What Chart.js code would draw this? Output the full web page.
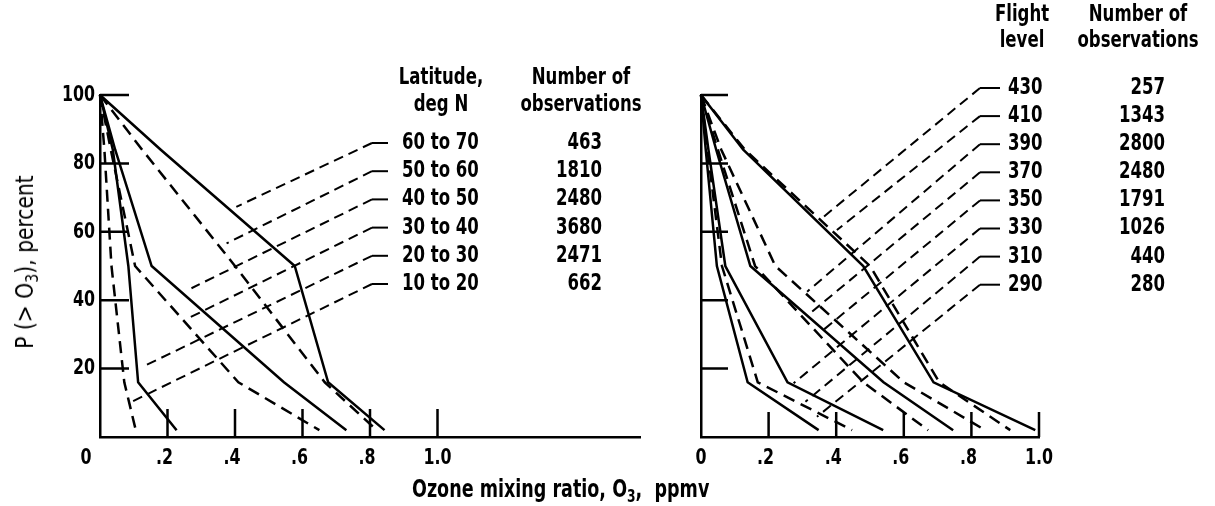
<!DOCTYPE html>
<html>
<head>
<meta charset="utf-8">
<script src="https://cdn.jsdelivr.net/npm/chart.js@4.4.1/dist/chart.umd.min.js"></script>
<style>
  html, body { margin: 0; padding: 0; background: #fff; }
  #wrap { position: relative; width: 1215px; height: 506px; overflow: hidden; }
  canvas { position: absolute; top: 0; }
  #left { left: 0; }
  #right { left: 660px; }
  .title { position: absolute; font-family: 'Liberation Sans Narrow', 'DejaVu Sans Condensed', sans-serif; color: #000; white-space: nowrap; line-height: 1; }
  .title sub { font-size: 70%; line-height: 0; vertical-align: -0.3em; }
  #xtitle { left: 412px; top: 476px; font-size: 25px; font-weight: bold; transform: scaleX(0.78); transform-origin: 0 0; }
  #ytitle { left: 25px; top: 262px; font-size: 24px; transform: translate(-50%, -50%) rotate(-90deg) scaleX(0.94); }
</style>
</head>
<body>
<div id="wrap">
  <canvas id="left" width="660" height="506"></canvas>
  <canvas id="right" width="555" height="506"></canvas>
  <div class="title" id="xtitle">Ozone mixing ratio, O<sub>3</sub>, &nbsp;ppmv</div>
  <div class="title" id="ytitle">P (&gt; O<sub>3</sub>), percent</div>
</div>
<script>
// probability levels P(>O3), percent, shared by every curve
const pLevels = [100, 84, 50, 16, 2];

// left panel - latitude bands
const latBands = ['60 to 70', '50 to 60', '40 to 50', '30 to 40', '20 to 30', '10 to 20'];
const latObs = ['463', '1810', '2480', '3680', '2471', '662'];
const o3Lat60 = [0, 0.18, 0.577, 0.676, 0.843];
const o3Lat50 = [0, 0.125, 0.40, 0.666, 0.82];
const o3Lat40 = [0, 0.045, 0.153, 0.545, 0.73];
const o3Lat30 = [0, 0.032, 0.104, 0.41, 0.65];
const o3Lat20 = [0, 0.038, 0.084, 0.113, 0.227];
const o3Lat10 = [0, 0.013, 0.034, 0.072, 0.106];
// where each label's leader meets its curve
const latLeadX = [0.404, 0.375, 0.271, 0.261, 0.128, 0.094];
const latLeadY = [67.3, 56.6, 43.5, 34.7, 20.6, 10.3];

// right panel - flight levels
const flLevels = ['430', '410', '390', '370', '350', '330', '310', '290'];
const flObs = ['257', '1343', '2800', '2480', '1791', '1026', '440', '280'];
const o3Fl430 = [0, 0.125, 0.48, 0.688, 0.989];
const o3Fl410 = [0, 0.13, 0.50, 0.705, 0.915];
const o3Fl390 = [0, 0.06, 0.22, 0.60, 0.841];
const o3Fl370 = [0, 0.045, 0.146, 0.54, 0.746];
const o3Fl350 = [0, 0.05, 0.16, 0.48, 0.672];
const o3Fl330 = [0, 0.022, 0.072, 0.256, 0.539];
const o3Fl310 = [0, 0.019, 0.062, 0.168, 0.447];
const o3Fl290 = [0, 0.014, 0.047, 0.138, 0.348];
const flLeadX = [0.358, 0.402, 0.314, 0.328, 0.362, 0.274, 0.309, 0.343];
const flLeadY = [64, 60.5, 42.5, 36.6, 31.3, 15.7, 10.3, 5.9];

const xTickValues = [0, 0.2, 0.4, 0.6, 0.8, 1.0];
const xTickLabels = ['0', '.2', '.4', '.6', '.8', '1.0'];
const yTickValues = [20, 40, 60, 80, 100];

const FONT = "'Liberation Sans Narrow', 'DejaVu Sans Condensed', sans-serif";
const SQUEEZE = 0.8; // the original lettering is narrower than any installed face

function curve(xs, dashed) {
  return {
    data: xs.map((v, i) => ({ x: v, y: pLevels[i] })),
    showLine: true,
    borderColor: '#000',
    borderWidth: 2.5,
    borderDash: dashed ? [12, 7] : [],
    pointRadius: 0,
    tension: 0,
    clip: false
  };
}

// narrow text: draw with a horizontal squeeze around the anchor point
function text(ctx, s, x, y, align) {
  ctx.save();
  ctx.translate(x, y);
  ctx.scale(SQUEEZE, 1);
  ctx.textAlign = align;
  ctx.fillText(s, 0, 0);
  ctx.restore();
}

function overlay(o) {
  return {
    id: 'overlay',
    afterDatasetsDraw(chart) {
      const { ctx, scales: { x, y } } = chart;
      ctx.save();
      ctx.strokeStyle = '#000';
      ctx.fillStyle = '#000';
      ctx.textBaseline = 'middle';

      // inward tick marks
      ctx.lineWidth = 2.5;
      ctx.beginPath();
      yTickValues.forEach(v => {
        const py = y.getPixelForValue(v);
        ctx.moveTo(x.left, py);
        ctx.lineTo(x.left + o.yTickLen, py);
      });
      xTickValues.slice(1).forEach(v => {
        const px = x.getPixelForValue(v);
        ctx.moveTo(px, y.bottom);
        ctx.lineTo(px, y.bottom - o.xTickLen);
      });
      ctx.stroke();

      // tick labels; for '.2' etc. the digit sits on the tick
      ctx.font = 'bold 22px ' + FONT;
      const digitW = ctx.measureText('0').width * SQUEEZE;
      xTickValues.forEach((v, i) => {
        const px = x.getPixelForValue(v);
        const lab = xTickLabels[i];
        if (lab.startsWith('.')) text(ctx, lab, px + digitW / 2, 458, 'right');
        else text(ctx, lab, px + (v === 0 ? o.zeroShift : 0), 458, 'center');
      });
      if (o.yLabels) {
        yTickValues.forEach(v => text(ctx, String(v), x.left - 5, y.getPixelForValue(v), 'right'));
      }

      // leaders
      o.names.forEach((n, i) => {
        const ry = o.rowY + i * o.rowGap;
        ctx.lineWidth = 2;
        ctx.setLineDash([]);
        ctx.beginPath();
        ctx.moveTo(o.leadX, ry);
        ctx.lineTo(o.leadX + o.leadLen, ry);
        ctx.stroke();
        ctx.setLineDash([10, 6]);
        ctx.beginPath();
        ctx.moveTo(o.leadX, ry);
        ctx.lineTo(x.getPixelForValue(o.leadTx[i]), y.getPixelForValue(o.leadTy[i]));
        ctx.stroke();
      });
      ctx.setLineDash([]);

      // legend text
      ctx.font = 'bold 23px ' + FONT;
      text(ctx, o.head1[0], o.col1, o.headY[0], 'center');
      text(ctx, o.head1[1], o.col1, o.headY[1], 'center');
      text(ctx, o.head2[0], o.col2, o.headY[0], 'center');
      text(ctx, o.head2[1], o.col2, o.headY[1], 'center');
      o.names.forEach((n, i) => {
        const ry = o.rowY + i * o.rowGap;
        text(ctx, n, o.labelX, ry, 'left');
        text(ctx, o.obs[i], o.numRight, ry, 'right');
      });
      ctx.restore();
    }
  };
}

function makeChart(id, datasets, xMax, yWidth, padRight, o) {
  return new Chart(document.getElementById(id), {
    type: 'scatter',
    data: { datasets },
    options: {
      responsive: false,
      animation: false,
      events: [],
      layout: { padding: { left: 0, top: 95, right: padRight, bottom: 69 } },
      plugins: { legend: { display: false }, tooltip: { enabled: false } },
      scales: {
        x: {
          type: 'linear',
          min: 0,
          max: xMax,
          afterBuildTicks: s => { s.ticks = xTickValues.map(v => ({ value: v })); },
          afterFit: s => { s.height = 0; },
          grid: { display: false, drawTicks: false },
          border: { display: true, color: '#000', width: 2.5 },
          ticks: { display: false }
        },
        y: {
          type: 'linear',
          min: 0,
          max: 100,
          afterBuildTicks: s => { s.ticks = yTickValues.map(v => ({ value: v })); },
          afterFit: s => { s.width = yWidth; },
          grid: { display: false, drawTicks: false },
          border: { display: true, color: '#000', width: 2.5 },
          ticks: { display: false }
        }
      }
    },
    plugins: [overlay(o)]
  });
}

makeChart('left', [
  curve(o3Lat60, false),
  curve(o3Lat50, true),
  curve(o3Lat40, false),
  curve(o3Lat30, true),
  curve(o3Lat20, false),
  curve(o3Lat10, true)
], 1.6, 100, 20, {
  yTickLen: 29, xTickLen: 28, zeroShift: -14, yLabels: true,
  names: latBands, obs: latObs, leadTx: latLeadX, leadTy: latLeadY,
  leadX: 372, leadLen: 16, labelX: 402, numRight: 602,
  rowY: 143, rowGap: 28.2,
  head1: ['Latitude,', 'deg N'], head2: ['Number of', 'observations'],
  col1: 441, col2: 581, headY: [78, 105]
});

makeChart('right', [
  curve(o3Fl430, false),
  curve(o3Fl410, true),
  curve(o3Fl390, true),
  curve(o3Fl370, false),
  curve(o3Fl350, true),
  curve(o3Fl330, false),
  curve(o3Fl310, true),
  curve(o3Fl290, false)
], 1.0, 41, 176, {
  yTickLen: 27, xTickLen: 25, zeroShift: 0, yLabels: false,
  names: flLevels, obs: flObs, leadTx: flLeadX, leadTy: flLeadY,
  leadX: 320, leadLen: 20, labelX: 348, numRight: 505,
  rowY: 88, rowGap: 28.1,
  head1: ['Flight', 'level'], head2: ['Number of', 'observations'],
  col1: 362, col2: 478, headY: [15, 41]
});
</script>
</body>
</html>
